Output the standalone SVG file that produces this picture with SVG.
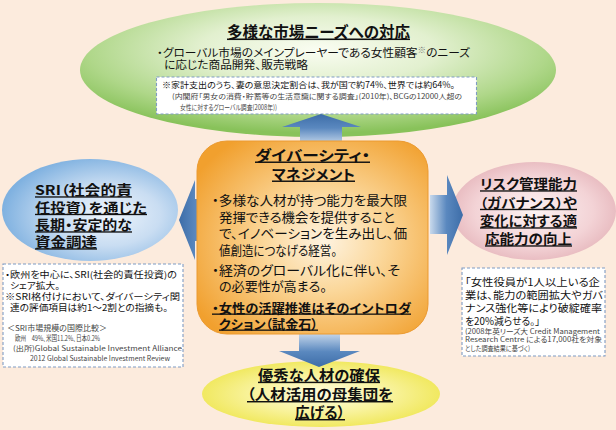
<svg xmlns="http://www.w3.org/2000/svg" width="616" height="430" viewBox="0 0 616 430">
<style>
text{font-family:"Noto Sans CJK JP","Noto Sans",sans-serif;font-feature-settings:"palt" 1;fill:#111;}
.b{font-weight:bold;}
.u{text-decoration:underline;}
.g{fill:#444;}
.dash{fill:#fff;stroke:#7f9cc4;stroke-width:1.1;stroke-dasharray:3 2;}
</style>
<defs>
<radialGradient id="gGreen" cx="0.5" cy="0.35" r="0.62">
<stop offset="0" stop-color="#fafdf2"/><stop offset="0.4" stop-color="#e2f0cf"/><stop offset="0.78" stop-color="#afd789"/><stop offset="1" stop-color="#88c25a"/>
</radialGradient>
<radialGradient id="gBlue" cx="0.6" cy="0.55" r="0.6">
<stop offset="0" stop-color="#eef5fc"/><stop offset="0.5" stop-color="#c9ddf2"/><stop offset="1" stop-color="#7fb1e0"/>
</radialGradient>
<radialGradient id="gPink" cx="0.5" cy="0.5" r="0.6">
<stop offset="0" stop-color="#fdf3f3"/><stop offset="0.6" stop-color="#f3d3d6"/><stop offset="1" stop-color="#e2aeb4"/>
</radialGradient>
<radialGradient id="gYellow" cx="0.5" cy="0.5" r="0.6">
<stop offset="0" stop-color="#fefce0"/><stop offset="0.5" stop-color="#f8f29a"/><stop offset="1" stop-color="#ede444"/>
</radialGradient>
<radialGradient id="gOrange" cx="0.55" cy="0.52" r="0.65">
<stop offset="0" stop-color="#fef3e0"/><stop offset="0.4" stop-color="#fbd79a"/><stop offset="1" stop-color="#f1a02e"/>
</radialGradient>
<linearGradient id="aUp" x1="0" y1="0" x2="0" y2="1">
<stop offset="0" stop-color="#3d6da8"/><stop offset="0.45" stop-color="#5a88bf"/><stop offset="1" stop-color="#c8d9ec"/>
</linearGradient>
<linearGradient id="aDown" x1="0" y1="0" x2="0" y2="1">
<stop offset="0" stop-color="#c8d9ec"/><stop offset="0.55" stop-color="#5a88bf"/><stop offset="1" stop-color="#3d6da8"/>
</linearGradient>
<linearGradient id="aRight" x1="0" y1="0" x2="1" y2="0">
<stop offset="0" stop-color="#c8d9ec"/><stop offset="0.5" stop-color="#5a88bf"/><stop offset="1" stop-color="#3d6da8"/>
</linearGradient>
<linearGradient id="aLeft" x1="0" y1="0" x2="1" y2="0">
<stop offset="0" stop-color="#3d6da8"/><stop offset="0.5" stop-color="#5a88bf"/><stop offset="1" stop-color="#c8d9ec"/>
</linearGradient>
</defs>

<rect x="0" y="0" width="616" height="430" fill="#fcebdd"/>

<g id="market">
<ellipse cx="318" cy="70" rx="238" ry="67" fill="url(#gGreen)"/>
<text class="b u" x="227" y="37.5" font-size="15.5" textLength="183" lengthAdjust="spacingAndGlyphs">多様な市場ニーズへの対応</text>
<text font-size="11"><tspan x="157" y="56.5" textLength="313" lengthAdjust="spacingAndGlyphs">・グローバル市場のメインプレーヤーである女性顧客<tspan font-size="8" dy="-4" fill="#777">※</tspan><tspan dy="4">のニーズ</tspan></tspan><tspan x="164" y="69" textLength="144" lengthAdjust="spacingAndGlyphs">に応じた商品開発、販売戦略</tspan></text>
</g>

<g id="market-note">
<rect class="dash" x="156.5" y="77" width="320" height="37"/>
<text x="162" y="88.2" font-size="8.5" textLength="293" lengthAdjust="spacingAndGlyphs">※家計支出のうち、妻の意思決定割合は、我が国で約74%、世界では約64%。</text>
<text class="g" font-size="7.2"><tspan x="172" y="99.2" textLength="290" lengthAdjust="spacingAndGlyphs">(内閣府「男女の消費・貯蓄等の生活意識に関する調査」(2010年)、BCGの12000人超の</tspan><tspan x="180" y="109.8" textLength="97" lengthAdjust="spacingAndGlyphs">女性に対するグローバル調査(2008年))</tspan></text>
</g>

<g id="sri">
<ellipse cx="90" cy="210" rx="88" ry="51" fill="url(#gBlue)"/>
<text class="b u" font-size="13.5"><tspan x="35" y="195.3" textLength="97" lengthAdjust="spacingAndGlyphs">SRI（社会的責</tspan><tspan x="35" y="212.8" textLength="112" lengthAdjust="spacingAndGlyphs">任投資）を通じた</tspan><tspan x="35" y="230.3" textLength="97" lengthAdjust="spacingAndGlyphs">長期・安定的な</tspan><tspan x="35" y="247.3" textLength="62" lengthAdjust="spacingAndGlyphs">資金調達</tspan></text>
</g>

<g id="risk">
<ellipse cx="534" cy="211" rx="82" ry="49" fill="url(#gPink)"/>
<text class="b u" font-size="13.5"><tspan x="480" y="189.3" textLength="97" lengthAdjust="spacingAndGlyphs">リスク管理能力</tspan><tspan x="480" y="207.8" textLength="97" lengthAdjust="spacingAndGlyphs">（ガバナンス）や</tspan><tspan x="480" y="226.3" textLength="97" lengthAdjust="spacingAndGlyphs">変化に対する適</tspan><tspan x="485" y="244.3" textLength="87" lengthAdjust="spacingAndGlyphs">応能力の向上</tspan></text>
</g>

<g id="talent">
<ellipse cx="321" cy="394" rx="119" ry="33" fill="url(#gYellow)"/>
<text class="b u" font-size="14.5"><tspan x="258" y="380.7" textLength="122" lengthAdjust="spacingAndGlyphs">優秀な人材の確保</tspan><tspan x="247" y="400" textLength="146" lengthAdjust="spacingAndGlyphs">（人材活用の母集団を</tspan><tspan x="295" y="418" textLength="50" lengthAdjust="spacingAndGlyphs">広げる）</tspan></text>
</g>

<g id="connectors">
<path d="M300,145 L300,127 L282,127 L321,114 L361,127 L342,127 L342,145 Z" fill="url(#aUp)"/>
<path d="M299,333 L340,333 L340,351 L360,351 L319,367 L279,351 L299,351 Z" fill="url(#aDown)"/>
<path d="M430,195 L447,195 L447,175 L463,215 L447,255 L447,234 L430,234 Z" fill="url(#aRight)"/>
<path d="M212,199 L195,199 L195,180 L179,220 L195,260 L195,241 L212,241 Z" fill="url(#aLeft)"/>
</g>

<g id="diversity">
<rect x="197" y="141" width="231" height="193" rx="30" ry="30" fill="url(#gOrange)" stroke="#eb9a30" stroke-width="1"/>
<text class="b u" font-size="14.5"><tspan x="255" y="160.5" textLength="115" lengthAdjust="spacingAndGlyphs">ダイバーシティ・</tspan><tspan x="272" y="179.5" textLength="83" lengthAdjust="spacingAndGlyphs">マネジメント</tspan></text>
<text font-size="13"><tspan x="212" y="205" textLength="195" lengthAdjust="spacingAndGlyphs">・多様な人材が持つ能力を最大限</tspan><tspan x="219" y="221.5" textLength="176" lengthAdjust="spacingAndGlyphs">発揮できる機会を提供すること</tspan><tspan x="219" y="238" textLength="188" lengthAdjust="spacingAndGlyphs">で、イノベーションを生み出し、価</tspan><tspan x="219" y="254.5" textLength="118" lengthAdjust="spacingAndGlyphs">値創造につなげる経営。</tspan></text>
<text font-size="13"><tspan x="212" y="275" textLength="188" lengthAdjust="spacingAndGlyphs">・経済のグローバル化に伴い、そ</tspan><tspan x="219" y="291" textLength="108" lengthAdjust="spacingAndGlyphs">の必要性が高まる。</tspan></text>
<text class="b u" font-size="13"><tspan x="212" y="312.5" textLength="199" lengthAdjust="spacingAndGlyphs">・女性の活躍推進はそのイントロダ</tspan><tspan x="219" y="328.5" textLength="99" lengthAdjust="spacingAndGlyphs">クション（試金石）</tspan></text>
</g>

<g id="sri-note">
<rect class="dash" x="3" y="264" width="180" height="103"/>
<text font-size="9"><tspan x="5" y="278.4" textLength="172" lengthAdjust="spacingAndGlyphs">・欧州を中心に、SRI(社会的責任投資)の</tspan><tspan x="10" y="289" textLength="50" lengthAdjust="spacingAndGlyphs">シェア拡大。</tspan><tspan x="5" y="300.4" textLength="175" lengthAdjust="spacingAndGlyphs">※SRI格付けにおいて、ダイバーシティ関</tspan><tspan x="10" y="311" textLength="158" lengthAdjust="spacingAndGlyphs">連の評価項目は約1〜2割との指摘も。</tspan></text>
<text class="g" font-size="7.5"><tspan x="7" y="330.5" font-size="7.8" textLength="100" lengthAdjust="spacingAndGlyphs">＜SRI市場規模の国際比較＞</tspan><tspan x="15" y="340.5" textLength="85" lengthAdjust="spacingAndGlyphs">欧州　49%、米国11.2%、日本0.2%</tspan><tspan x="13" y="351" font-size="7.2" textLength="169" lengthAdjust="spacingAndGlyphs">(出所)Global Sustainable Investment Alliance</tspan><tspan x="30" y="360.5" font-size="7.2" textLength="140" lengthAdjust="spacingAndGlyphs">2012 Global Sustainable Investment Review</tspan></text>
</g>

<g id="risk-note">
<rect class="dash" x="462" y="268" width="143" height="88"/>
<text font-size="10"><tspan x="465" y="285.8" textLength="135" lengthAdjust="spacingAndGlyphs">「女性役員が1人以上いる企</tspan><tspan x="465" y="299.2" textLength="138" lengthAdjust="spacingAndGlyphs">業は、能力の範囲拡大やガバ</tspan><tspan x="465" y="312.2" textLength="137" lengthAdjust="spacingAndGlyphs">ナンス強化等により破綻確率</tspan><tspan x="465" y="324.7" textLength="75" lengthAdjust="spacingAndGlyphs">を20%減らせる。」</tspan></text>
<text class="g" font-size="7"><tspan x="465" y="333.5" textLength="135" lengthAdjust="spacingAndGlyphs">(2008年英リーズ大 Credit Management</tspan><tspan x="465" y="342" textLength="137" lengthAdjust="spacingAndGlyphs">Research Centre による17,000社を対象</tspan><tspan x="465" y="350.5" textLength="65" lengthAdjust="spacingAndGlyphs">とした調査結果に基づく)</tspan></text>
</g>
</svg>
